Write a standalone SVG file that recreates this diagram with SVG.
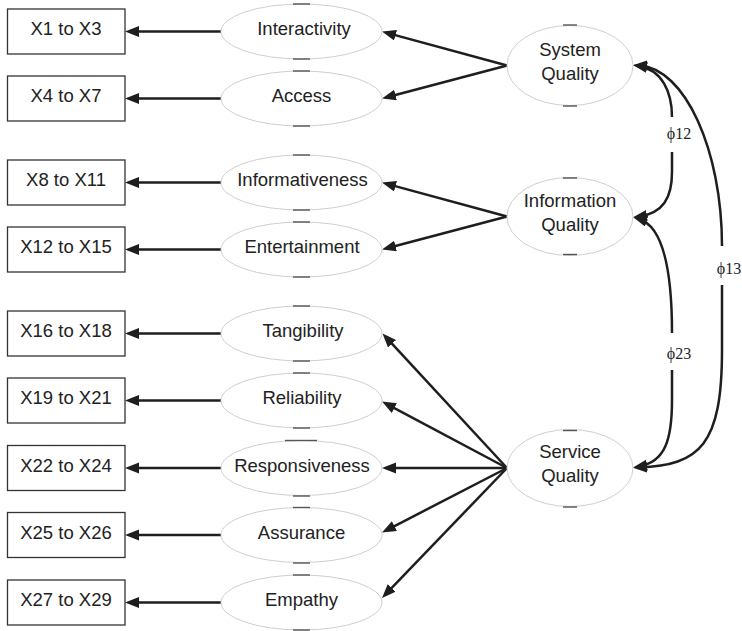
<svg xmlns="http://www.w3.org/2000/svg" width="742" height="631" viewBox="0 0 742 631">
<style>
.box{fill:#fff;stroke:#333;stroke-width:1.3}
.ell{fill:#fff;stroke:#cfcfcf;stroke-width:1}
.tick{stroke:#555;stroke-width:1.4}
.t{font-family:"Liberation Sans",Arial,sans-serif;font-size:18.5px;fill:#222;text-anchor:middle}
.phi{font-family:"Liberation Serif","Times New Roman",serif;font-size:16px;fill:#222;text-anchor:middle}
.c{fill:none;stroke:#1e1e1e;stroke-width:2.5}
</style>
<defs>
<marker id="ah" markerUnits="userSpaceOnUse" markerWidth="15" markerHeight="12" refX="8" refY="5.5" orient="auto-start-reverse">
<path d="M0,0 L14,5.5 L0,11 z" fill="#1e1e1e"/>
</marker>
</defs>
<rect width="742" height="631" fill="#fff"/>

<g id="connectors">
<line class="c" x1="221" y1="31.5" x2="131" y2="31.5" marker-end="url(#ah)"/>
<line class="c" x1="221" y1="98.5" x2="131" y2="98.5" marker-end="url(#ah)"/>
<line class="c" x1="221" y1="182.5" x2="131" y2="182.5" marker-end="url(#ah)"/>
<line class="c" x1="221" y1="249.5" x2="131" y2="249.5" marker-end="url(#ah)"/>
<line class="c" x1="221" y1="333.5" x2="131" y2="333.5" marker-end="url(#ah)"/>
<line class="c" x1="221" y1="400.5" x2="131" y2="400.5" marker-end="url(#ah)"/>
<line class="c" x1="221" y1="468" x2="131" y2="468" marker-end="url(#ah)"/>
<line class="c" x1="221" y1="535" x2="131" y2="535" marker-end="url(#ah)"/>
<line class="c" x1="221" y1="602.5" x2="131" y2="602.5" marker-end="url(#ah)"/>

<line class="c" x1="507" y1="65.5" x2="387.8" y2="33.1" marker-end="url(#ah)"/>
<line class="c" x1="507" y1="65.5" x2="387.8" y2="97" marker-end="url(#ah)"/>
<line class="c" x1="507" y1="216.5" x2="387.8" y2="184.1" marker-end="url(#ah)"/>
<line class="c" x1="507" y1="216.5" x2="387.8" y2="248" marker-end="url(#ah)"/>
<line class="c" x1="507" y1="468" x2="386.6" y2="337.9" marker-end="url(#ah)"/>
<line class="c" x1="507" y1="468" x2="387.3" y2="404.3" marker-end="url(#ah)"/>
<line class="c" x1="507" y1="468" x2="388" y2="468" marker-end="url(#ah)"/>
<line class="c" x1="507" y1="468" x2="387.3" y2="529.8" marker-end="url(#ah)"/>
<line class="c" x1="507" y1="468" x2="386.2" y2="593.7" marker-end="url(#ah)"/>

<path class="c" d="M639,66 C662,70 672,92 672,117" marker-start="url(#ah)"/>
<path class="c" d="M672,152 L672,172 C672,198 663,213 639,216.5" marker-end="url(#ah)"/>
<path class="c" d="M639,219 C662,226 672,265 672,333" marker-start="url(#ah)"/>
<path class="c" d="M672,370 L672,400 C672,440 665,462 639,466.5" marker-end="url(#ah)"/>
<path class="c" d="M639,65.5 C685,68 722,150 722,246" marker-start="url(#ah)"/>
<path class="c" d="M722,285 L722,350 C722,445 700,465 639,467.5" marker-end="url(#ah)"/>
<text class="phi" x="679" y="139">ϕ12</text>
<text class="phi" x="729" y="274">ϕ13</text>
<text class="phi" x="679" y="359">ϕ23</text>
</g>

<g id="box1"><rect class="box" x="7.5" y="9" width="117.5" height="45"/><text class="t" x="66" y="35">X1 to X3</text></g>
<g id="box2"><rect class="box" x="7.5" y="76" width="117.5" height="45"/><text class="t" x="66" y="102">X4 to X7</text></g>
<g id="box3"><rect class="box" x="7.5" y="160" width="117.5" height="45"/><text class="t" x="66" y="186">X8 to X11</text></g>
<g id="box4"><rect class="box" x="7.5" y="227" width="117.5" height="45"/><text class="t" x="66" y="253">X12 to X15</text></g>
<g id="box5"><rect class="box" x="7.5" y="311" width="117.5" height="45"/><text class="t" x="66" y="337">X16 to X18</text></g>
<g id="box6"><rect class="box" x="7.5" y="378" width="117.5" height="45"/><text class="t" x="66" y="404">X19 to X21</text></g>
<g id="box7"><rect class="box" x="7.5" y="445.5" width="117.5" height="45"/><text class="t" x="66" y="471.5">X22 to X24</text></g>
<g id="box8"><rect class="box" x="7.5" y="512.5" width="117.5" height="45"/><text class="t" x="66" y="538.5">X25 to X26</text></g>
<g id="box9"><rect class="box" x="7.5" y="580" width="117.5" height="45"/><text class="t" x="66" y="606">X27 to X29</text></g>

<g id="interactivity"><ellipse class="ell" cx="301.5" cy="31.5" rx="80.5" ry="27.5"/><line class="tick" x1="293" y1="4" x2="310" y2="4"/><line class="tick" x1="293" y1="59" x2="310" y2="59"/><text class="t" x="304" y="35">Interactivity</text></g>
<g id="access"><ellipse class="ell" cx="301.5" cy="98.5" rx="80.5" ry="27.5"/><line class="tick" x1="293" y1="71" x2="310" y2="71"/><line class="tick" x1="293" y1="126" x2="310" y2="126"/><text class="t" x="301.5" y="102">Access</text></g>
<g id="informativeness"><ellipse class="ell" cx="301.5" cy="182.5" rx="80.5" ry="27.5"/><line class="tick" x1="293" y1="155" x2="310" y2="155"/><line class="tick" x1="293" y1="210" x2="310" y2="210"/><text class="t" x="302.5" y="186">Informativeness</text></g>
<g id="entertainment"><ellipse class="ell" cx="301.5" cy="249.5" rx="80.5" ry="27.5"/><line class="tick" x1="293" y1="222" x2="310" y2="222"/><line class="tick" x1="293" y1="277" x2="310" y2="277"/><text class="t" x="302" y="253">Entertainment</text></g>
<g id="tangibility"><ellipse class="ell" cx="301.5" cy="333.5" rx="80.5" ry="27.5"/><line class="tick" x1="293" y1="306" x2="310" y2="306"/><line class="tick" x1="293" y1="361" x2="310" y2="361"/><text class="t" x="303" y="337">Tangibility</text></g>
<g id="reliability"><ellipse class="ell" cx="301.5" cy="400.5" rx="80.5" ry="27.5"/><line class="tick" x1="293" y1="373" x2="310" y2="373"/><line class="tick" x1="293" y1="428" x2="310" y2="428"/><text class="t" x="302" y="404">Reliability</text></g>
<g id="responsiveness"><ellipse class="ell" cx="301.5" cy="468" rx="80.5" ry="27.5"/><line class="tick" x1="285" y1="440.5" x2="317" y2="440.5"/><line class="tick" x1="293" y1="496" x2="310" y2="496"/><text class="t" x="302" y="471.5">Responsiveness</text></g>
<g id="assurance"><ellipse class="ell" cx="301.5" cy="535" rx="80.5" ry="27.5"/><line class="tick" x1="293" y1="507.5" x2="310" y2="507.5"/><line class="tick" x1="293" y1="563" x2="310" y2="563"/><text class="t" x="301.5" y="538.5">Assurance</text></g>
<g id="empathy"><ellipse class="ell" cx="301.5" cy="602.5" rx="80.5" ry="27.5"/><line class="tick" x1="293" y1="575" x2="310" y2="575"/><line class="tick" x1="293" y1="630" x2="310" y2="630"/><text class="t" x="301.5" y="606">Empathy</text></g>

<g id="system-quality"><ellipse class="ell" cx="570" cy="65.5" rx="63" ry="40"/><line class="tick" x1="563" y1="25" x2="577" y2="25"/><line class="tick" x1="563" y1="106" x2="577" y2="106"/><text class="t" x="570" y="56">System</text><text class="t" x="570" y="80">Quality</text></g>
<g id="information-quality"><ellipse class="ell" cx="570" cy="216.5" rx="63" ry="39"/><line class="tick" x1="563" y1="178" x2="577" y2="178"/><line class="tick" x1="563" y1="254.5" x2="577" y2="254.5"/><text class="t" x="570" y="207">Information</text><text class="t" x="570" y="231">Quality</text></g>
<g id="service-quality"><ellipse class="ell" cx="570" cy="468" rx="63" ry="38.5"/><line class="tick" x1="563" y1="430.5" x2="577" y2="430.5"/><line class="tick" x1="563" y1="507" x2="577" y2="507"/><text class="t" x="570" y="458">Service</text><text class="t" x="570" y="482">Quality</text></g>
</svg>
